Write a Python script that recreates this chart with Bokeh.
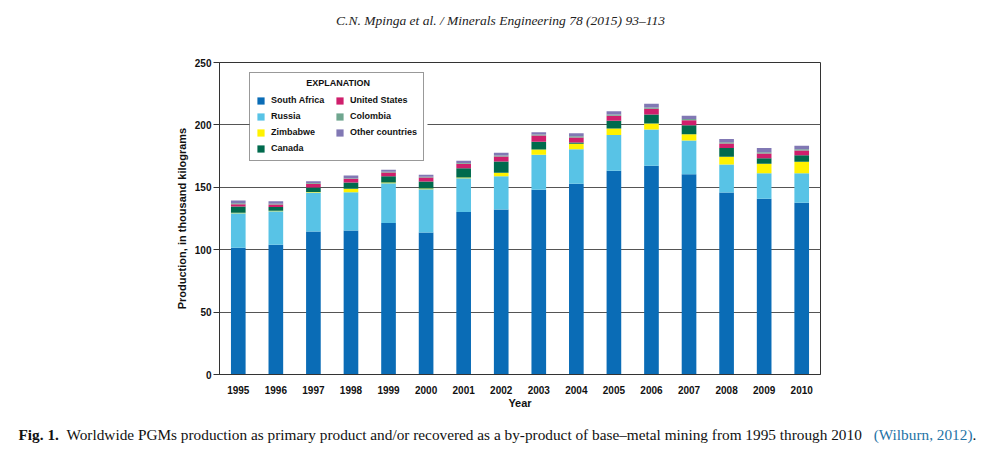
from bokeh.plotting import figure
from bokeh.layouts import column
from bokeh.models import Label, FactorRange, ColumnDataSource, BoxAnnotation
from bokeh.embed import file_html
from bokeh.resources import INLINE

years = [str(y) for y in range(1995, 2011)]
countries = ["South Africa", "Russia", "Zimbabwe", "Canada",
             "United States", "Colombia", "Other countries"]
south_africa = [101.5, 104.0, 114.6, 115.4, 121.3, 113.8, 130.3, 132.2,
                148.0, 152.8, 163.2, 167.2, 160.5, 145.8, 140.8, 137.6]
russia = [27.8, 26.9, 31.2, 30.7, 32.0, 34.7, 27.0, 26.7,
          28.0, 27.7, 28.8, 29.1, 27.0, 22.5, 20.5, 23.7]
zimbabwe = [0.4, 0.4, 0.5, 2.7, 0.6, 0.5, 0.5, 2.7,
            4.3, 4.3, 5.1, 4.8, 5.1, 6.1, 7.5, 9.1]
canada = [4.9, 3.0, 3.5, 5.0, 5.0, 5.6, 7.5, 9.1,
          6.1, 1.1, 6.2, 7.2, 7.2, 7.0, 4.5, 5.3]
united_states = [1.9, 2.0, 3.0, 3.0, 3.0, 3.3, 3.5, 4.0,
                 5.1, 4.0, 4.0, 4.6, 4.0, 3.7, 3.8, 3.8]
colombia = [0.8, 0.6, 0.6, 0.5, 0.5, 0.5, 0.6, 0.7,
            0.8, 1.0, 1.0, 1.0, 1.0, 1.0, 1.0, 1.0]
other_countries = [2.1, 1.9, 1.5, 2.2, 1.6, 1.6, 1.8, 2.2,
                   1.9, 2.5, 2.7, 3.0, 2.5, 2.7, 3.3, 2.7]
y_ticks = [0, 50, 100, 150, 200, 250]

header_text = "C.N. Mpinga et al. / Minerals Engineering 78 (2015) 93\u2013113"
caption_lead = "Fig. 1."
caption_body = ("Worldwide PGMs production as primary product and/or recovered as a "
                "by-product of base\u2013metal mining from 1995 through 2010")
caption_ref = "(Wilburn, 2012)"

colors = ["#0a6cb6", "#58c3e6", "#fff200", "#006a4d",
          "#cf1f6c", "#6fa68f", "#8178b4"]
keys = ["sa", "ru", "zw", "ca", "us", "co", "ot"]

W = 975
chart_font = "Liberation Sans"
serif = "Liberation Serif"


def text_fig(height, width):
    f = figure(width=width, height=height, x_range=(0, width), y_range=(height, 0),
               output_backend="svg", toolbar_location=None, frame_align=False,
               min_border=0, min_border_left=0, min_border_right=0,
               min_border_top=0, min_border_bottom=0)
    f.axis.visible = False
    f.grid.grid_line_color = None
    f.outline_line_color = None
    return f


# header
head = text_fig(40, W)
head.add_layout(Label(x=500, y=20, text=header_text, text_align="center",
                      text_baseline="middle", text_font=serif,
                      text_font_style="italic", text_font_size="13.5px",
                      text_color="#222222"))

# main chart
source = ColumnDataSource(dict(year=years, sa=south_africa, ru=russia, zw=zimbabwe,
                               ca=canada, us=united_states, co=colombia,
                               ot=other_countries))

p = figure(x_range=FactorRange(*years, range_padding=0), y_range=(0, 250),
           width=W, height=372, output_backend="svg", toolbar_location=None,
           frame_align=False,
           min_border_left=219, min_border_right=W - 820, min_border_top=22,
           min_border_bottom=38)

p.vbar_stack(keys, x="year", width=0.39, color=colors, source=source,
             line_color=None, legend_label=countries)

p.outline_line_color = "#333333"
p.outline_line_width = 1
p.xgrid.grid_line_color = None
p.ygrid.grid_line_color = "#555555"
p.ygrid.grid_line_width = 1
p.yaxis.ticker = y_ticks

p.xaxis.axis_line_color = "#333333"
p.xaxis.major_tick_line_color = None
p.xaxis.minor_tick_line_color = None
p.xaxis.major_label_standoff = 5
p.xaxis.major_label_text_font = chart_font
p.xaxis.major_label_text_font_style = "bold"
p.xaxis.major_label_text_font_size = "10px"
p.xaxis.major_label_text_color = "#111111"
p.xaxis.axis_label = "Year"
p.xaxis.axis_label_text_font = chart_font
p.xaxis.axis_label_text_font_style = "bold"
p.xaxis.axis_label_text_font_size = "11px"
p.xaxis.axis_label_standoff = 0
p.xaxis.axis_label_text_color = "#111111"

p.yaxis.axis_line_color = "#333333"
p.yaxis.major_tick_line_color = "#333333"
p.yaxis.major_tick_out = 6
p.yaxis.major_tick_in = 0
p.yaxis.minor_tick_line_color = None
p.yaxis.major_label_standoff = 2
p.yaxis.major_label_text_font = chart_font
p.yaxis.major_label_text_font_style = "bold"
p.yaxis.major_label_text_font_size = "10px"
p.yaxis.major_label_text_color = "#111111"
p.yaxis.axis_label = "Production, in thousand kilograms"
p.yaxis.axis_label_text_font = chart_font
p.yaxis.axis_label_text_font_style = "bold"
p.yaxis.axis_label_text_font_size = "11px"
p.yaxis.axis_label_standoff = 4
p.yaxis.axis_label_text_color = "#111111"

# white backing for the legend, drawn under the title label and the legend
p.add_layout(BoxAnnotation(left=30, right=208, bottom=213, top=302,
                           left_units="screen", right_units="screen",
                           bottom_units="screen", top_units="screen",
                           fill_color="white", fill_alpha=1, line_color=None))
p.add_layout(Label(x=118.7, y=291.3, x_units="screen", y_units="screen",
                   text="EXPLANATION", text_align="center", text_baseline="middle",
                   text_font=chart_font, text_font_style="bold",
                   text_font_size="9px", text_color="#111111"))

lg = p.legend[0]
lg.location = (30, 213)
lg.nrows = 4
lg.orientation = "vertical"
lg.title = " "
lg.title_text_font_size = "11px"
lg.title_standoff = 3
lg.border_line_color = "#333333"
lg.border_line_width = 1
lg.background_fill_alpha = 0
lg.padding = 6
lg.margin = 0
lg.spacing = 4
lg.label_height = 12
lg.label_width = 60
lg.glyph_height = 9
lg.glyph_width = 9
lg.label_standoff = 6
lg.label_text_font = chart_font
lg.label_text_font_style = "bold"
lg.label_text_font_size = "9px"
lg.label_text_color = "#111111"

# caption
cap = text_fig(40, 983)
cy = 22
cfs = "15.3px"
cap.add_layout(Label(x=18, y=cy, text=caption_lead, text_align="left",
                     text_baseline="middle", text_font=serif, text_font_style="bold",
                     text_font_size=cfs, text_color="#111111"))
cap.add_layout(Label(x=66, y=cy, text=caption_body, text_align="left",
                     text_baseline="middle", text_font=serif,
                     text_font_size=cfs, text_color="#111111"))
cap.add_layout(Label(x=972, y=cy, text=caption_ref, text_align="right",
                     text_baseline="middle", text_font=serif,
                     text_font_size=cfs, text_color="#1f73a6"))
cap.add_layout(Label(x=972, y=cy, text=".", text_align="left",
                     text_baseline="middle", text_font=serif,
                     text_font_size=cfs, text_color="#111111"))

layout = column(head, p, cap, spacing=0)
open("out.html", "w").write(file_html(layout, INLINE))
